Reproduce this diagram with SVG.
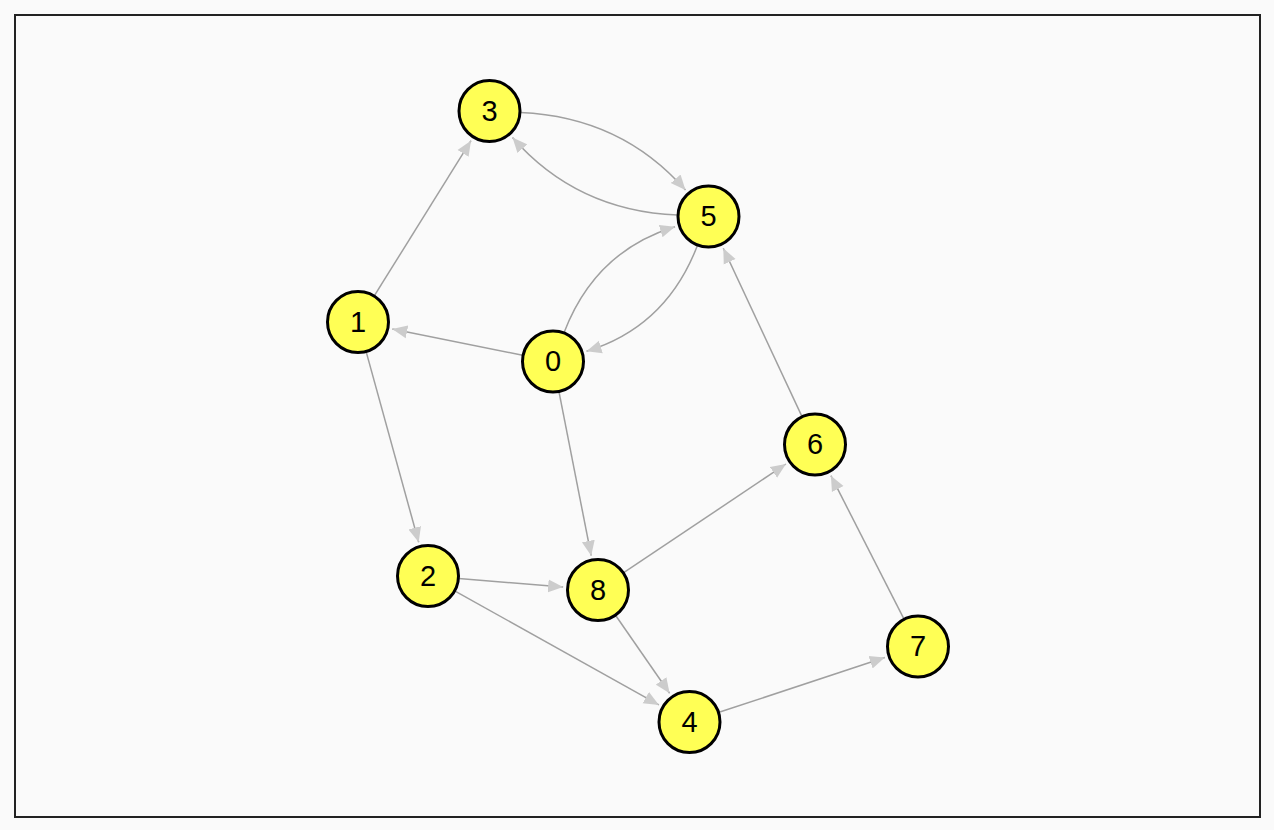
<svg xmlns="http://www.w3.org/2000/svg" width="1274" height="830" viewBox="0 0 1274 830">
  <style>
    .frame { fill: #fafafa; stroke: #222222; stroke-width: 2; }
    .edge { fill: none; stroke: #a0a0a0; stroke-width: 1.5; marker-end: url(#arrow); }
    .node circle { fill: #ffff55; stroke: #000000; stroke-width: 3; }
    .node text { font-family: "Liberation Sans", Arial, sans-serif; font-size: 29px; fill: #000000; text-anchor: middle; }
  </style>
  <defs>
    <marker id="arrow" viewBox="0 -7 15 14" refX="15" refY="0" markerWidth="15" markerHeight="14" markerUnits="userSpaceOnUse" orient="auto">
      <path d="M0,-6.5 L15,0 L0,6.5 Z" fill="#cccccc"/>
    </marker>
  </defs>

  <rect width="1274" height="830" fill="#fafafa"/>
  <rect class="frame" x="15" y="15" width="1245" height="802"/>

  <g id="edges">
    <path class="edge" d="M374.4,295.7 L471.0,140.7"/>
    <path class="edge" d="M522.6,355.3 L392.3,328.9"/>
    <path class="edge" d="M366.2,351.9 L418.7,542.3"/>
    <path class="edge" d="M559.0,391.9 L591.2,555.7"/>
    <path class="edge" d="M458.9,578.5 L563.1,587.1"/>
    <path class="edge" d="M455.1,591.1 L658.9,704.9"/>
    <path class="edge" d="M615.7,615.5 L669.6,693.2"/>
    <path class="edge" d="M623.7,572.7 L785.9,464.0"/>
    <path class="edge" d="M801.9,416.4 L723.3,248.2"/>
    <path class="edge" d="M903.9,618.9 L830.9,475.7"/>
    <path class="edge" d="M719.0,712.3 L884.8,657.5"/>
    <path class="edge" d="M520.5,112.4 Q621.6,116.9 685.5,190.1"/>
    <path class="edge" d="M677.5,215.1 Q576.4,210.6 512.5,137.4"/>
    <path class="edge" d="M564.1,332.5 Q595.3,251.0 675.0,226.7"/>
    <path class="edge" d="M697.4,245.5 Q666.2,327.0 586.5,351.3"/>
  </g>

  <g id="node-0" class="node"><circle cx="553" cy="361.5" r="30.5"/><text x="553" y="371">0</text></g>
  <g id="node-1" class="node"><circle cx="358" cy="322" r="30.5"/><text x="358" y="331.5">1</text></g>
  <g id="node-2" class="node"><circle cx="428" cy="576" r="30.5"/><text x="428" y="585.5">2</text></g>
  <g id="node-3" class="node"><circle cx="489.5" cy="111" r="30.5"/><text x="489.5" y="120.5">3</text></g>
  <g id="node-4" class="node"><circle cx="689.5" cy="722" r="30.5"/><text x="689.5" y="731.5">4</text></g>
  <g id="node-5" class="node"><circle cx="708.5" cy="216.5" r="30.5"/><text x="708.5" y="226">5</text></g>
  <g id="node-6" class="node"><circle cx="815" cy="444.5" r="30.5"/><text x="815" y="454">6</text></g>
  <g id="node-7" class="node"><circle cx="918" cy="646.5" r="30.5"/><text x="918" y="656">7</text></g>
  <g id="node-8" class="node"><circle cx="598" cy="590" r="30.5"/><text x="598" y="599.5">8</text></g>
</svg>
